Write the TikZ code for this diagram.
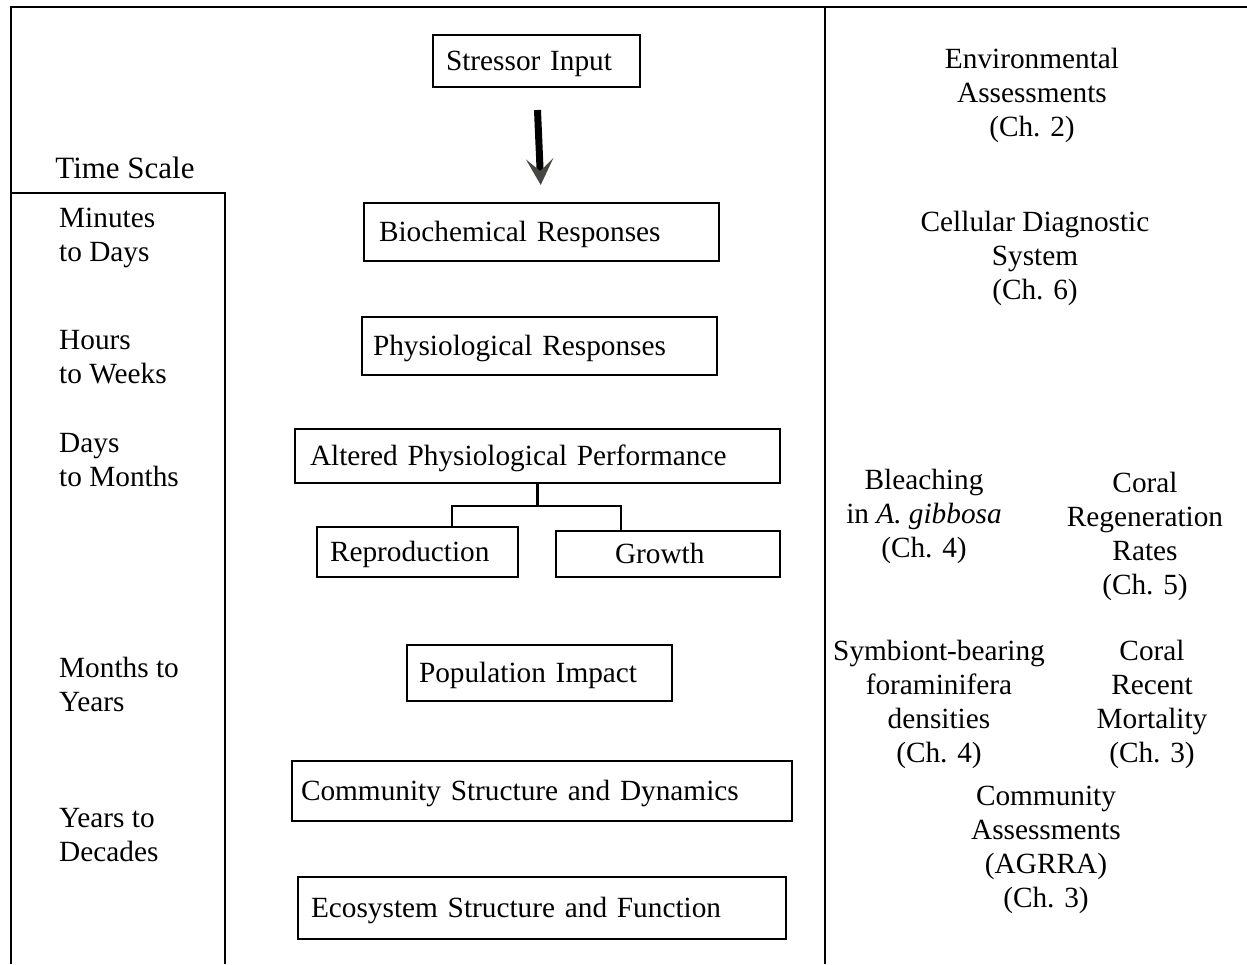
\documentclass[tikz,border=0pt]{standalone}
\usepackage{fontspec}
\setmainfont{Liberation Serif}
\usetikzlibrary{arrows.meta,calc}
\definecolor{headgray}{RGB}{70,70,66}
\tikzset{
  every picture/.style={x=1pt,y=-1pt},
  txt/.style={font=\fontsize{29.3}{34}\selectfont},
  frame/.style={line width=2.8pt},
  boxnode/.style={txt, draw, line width=2.6pt, outer sep=0pt, anchor=north west, align=left, inner ysep=0pt, text height=21pt, text depth=1.6pt},
  conn/.style={line width=2.6pt},
  lbl/.style={txt, align=center, inner sep=0pt},
  lbll/.style={txt, align=left, inner sep=0pt, anchor=west},
  bigarrow/.style={line width=7pt, -{Stealth[length=26pt,width=27pt,inset=12pt,fill=headgray,color=headgray]}}
}
\begin{document}
\begin{tikzpicture}
\useasboundingbox (0,0) rectangle (1247,964);
% frame
\draw[frame] (11,964) -- (11,7) -- (1247,7);
\draw[frame] (825,7) -- (825,964);
\draw[frame] (11,193) -- (225,193) -- (225,964);

% boxes
\node[boxnode, minimum height=52pt, inner xsep=13pt, text width=181pt] (stressor) at (433,35) {Stressor Input};
\node[boxnode, minimum height=58pt, inner xsep=15pt, text width=325pt] (bio) at (364,203) {Biochemical Responses};
\node[boxnode, minimum height=58pt, inner xsep=11pt, text width=333pt] (phys) at (362,317) {Physiological Responses};
\node[boxnode, minimum height=54pt, inner xsep=15pt, text width=455pt] (app) at (295,429) {Altered Physiological Performance};
\node[boxnode, minimum height=50pt, inner xsep=13pt, text width=175pt] (repro) at (317,527) {Reproduction};
\node[boxnode, minimum height=46pt, inner xsep=59pt, text width=106pt] (growth) at (556,531) {Growth};
\node[boxnode, minimum height=56pt, inner xsep=12pt, text width=241pt] (pop) at (407,645) {Population Impact};
\node[boxnode, minimum height=60pt, inner xsep=9pt, text width=482pt] (comm) at (292,761) {Community Structure and Dynamics};
\node[boxnode, minimum height=62pt, inner xsep=13pt, text width=462pt] (eco) at (298,877) {Ecosystem Structure and Function};

% connectors
\draw[bigarrow, shorten <=23pt, shorten >=18pt] (stressor.south) -- (bio.north);
\draw[conn] (app.south) -- ++(0,23);
\draw[conn] ([xshift=135pt]repro.north west) |- ([xshift=65pt,yshift=25pt]growth.north west) -- ([xshift=65pt]growth.north west);

% time scale
\node[lbl, font=\fontsize{31}{34}\selectfont] (ts) at (125,168) {Time Scale};
\node[lbll] (t1) at (59,238) {Minutes\\to Days};
\node[lbll] (t2) at (59,357) {Hours\\to Weeks};
\node[lbll] (t3) at (59,460) {Days\\to Months};
\node[lbll] (t4) at (59,684) {Months to\\Years};
\node[lbll] (t5) at (59,835) {Years to\\Decades};

% right column
\node[lbl] (r1) at (1032,95) {Environmental\\Assessments\\(Ch. 2)};
\node[lbl] (r2) at (1035,258) {Cellular Diagnostic\\System\\(Ch. 6)};
\node[lbl] (r3) at (924,516) {Bleaching\\in \textit{A. gibbosa}\\(Ch. 4)};
\node[lbl] (r4) at (1145,536) {Coral\\Regeneration\\Rates\\(Ch. 5)};
\node[lbl] (r5) at (939,704) {Symbiont-bearing\\foraminifera\\densities\\(Ch. 4)};
\node[lbl] (r6) at (1152,704) {Coral\\Recent\\Mortality\\(Ch. 3)};
\node[lbl] (r7) at (1046,850) {Community\\Assessments\\(AGRRA)\\(Ch. 3)};
\end{tikzpicture}
\end{document}
